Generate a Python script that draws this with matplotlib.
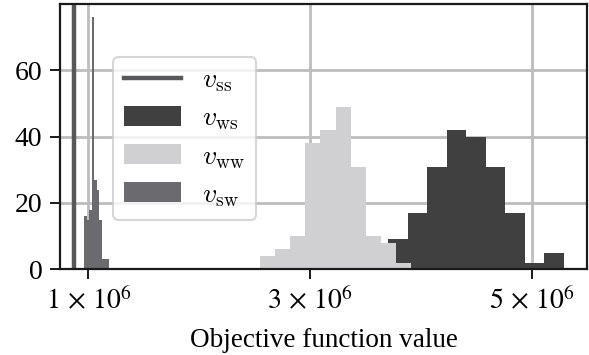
import numpy as np
import matplotlib
matplotlib.use("Agg")
import matplotlib.pyplot as plt
from matplotlib.font_manager import FontProperties

plt.rcParams['font.family'] = ['Liberation Serif', 'DejaVu Serif']
plt.rcParams['mathtext.fontset'] = 'stix'

# --- data ---
v_ss = 0.874e6

sw_start, sw_width = 0.964e6, 0.0225e6
sw_counts = [16, 15, 18, 76, 27, 24, 15, 3, 3, 3]

ww_start, ww_width = 2.550e6, 0.136e6
ww_counts = [4, 6, 10, 38, 42, 49, 31, 10, 8, 2]

ws_start, ws_width = 3.703e6, 0.1765e6
ws_counts = [9, 17, 31, 42, 40, 31, 17, 2, 5]

xticks = [1e6, 3e6, 5e6]
xticklabels = [r'$1\,\times\,10^6$', r'$3\,\times\,10^6$', r'$5\,\times\,10^6$']
yticks = [0, 20, 40, 60]

labels = [r'$v_{\mathrm{ss}}$', r'$v_{\mathrm{ws}}$', r'$v_{\mathrm{ww}}$', r'$v_{\mathrm{sw}}$']
colors = ['#58585a', '#404040', '#d0d0d2', '#6b6b6f']


def edges(start, width, n):
    return start + width * np.arange(n + 1)


fig = plt.figure(figsize=(5.89, 3.55), dpi=100)
ax = fig.add_axes([0.1024, 0.2414, 0.8937, 0.7473])

ax.axvline(v_ss, color=colors[0], lw=3.2, label=labels[0], zorder=2)
for (start, width, counts), lab, col in zip(
        [(ws_start, ws_width, ws_counts), (ww_start, ww_width, ww_counts), (sw_start, sw_width, sw_counts)],
        labels[1:], colors[1:]):
    e = edges(start, width, len(counts))
    ax.hist(e[:-1], bins=e, weights=counts, color=col, label=lab, zorder=2)

ax.set_xlim(0.747e6, 5.496e6)
ax.set_ylim(0, 80)
ax.set_xticks(xticks)
ax.set_xticklabels(xticklabels)
ax.set_yticks(yticks)
ax.set_axisbelow(True)
ax.grid(True, color='#bdbdbd', lw=2.0)

for s in ax.spines.values():
    s.set_linewidth(1.6)
    s.set_color('#1a1a1a')
ax.tick_params(axis='both', which='major', length=7, width=1.4, labelsize=20, pad=6, color='#1a1a1a')

ax.set_xlabel('Objective function value', fontsize=19.5, labelpad=9)

leg = ax.legend(loc='upper left', bbox_to_anchor=(113 / 589, 1 - 57 / 355),
                bbox_transform=fig.transFigure, borderaxespad=0,
                prop=FontProperties(size=20, math_fontfamily='cm'),
                framealpha=0.8, edgecolor='#cccccc', fancybox=True,
                handlelength=2.05, labelspacing=0.43, handletextpad=0.75)
leg.get_frame().set_linewidth(1.5)

fig.savefig('out.png', dpi=100)
